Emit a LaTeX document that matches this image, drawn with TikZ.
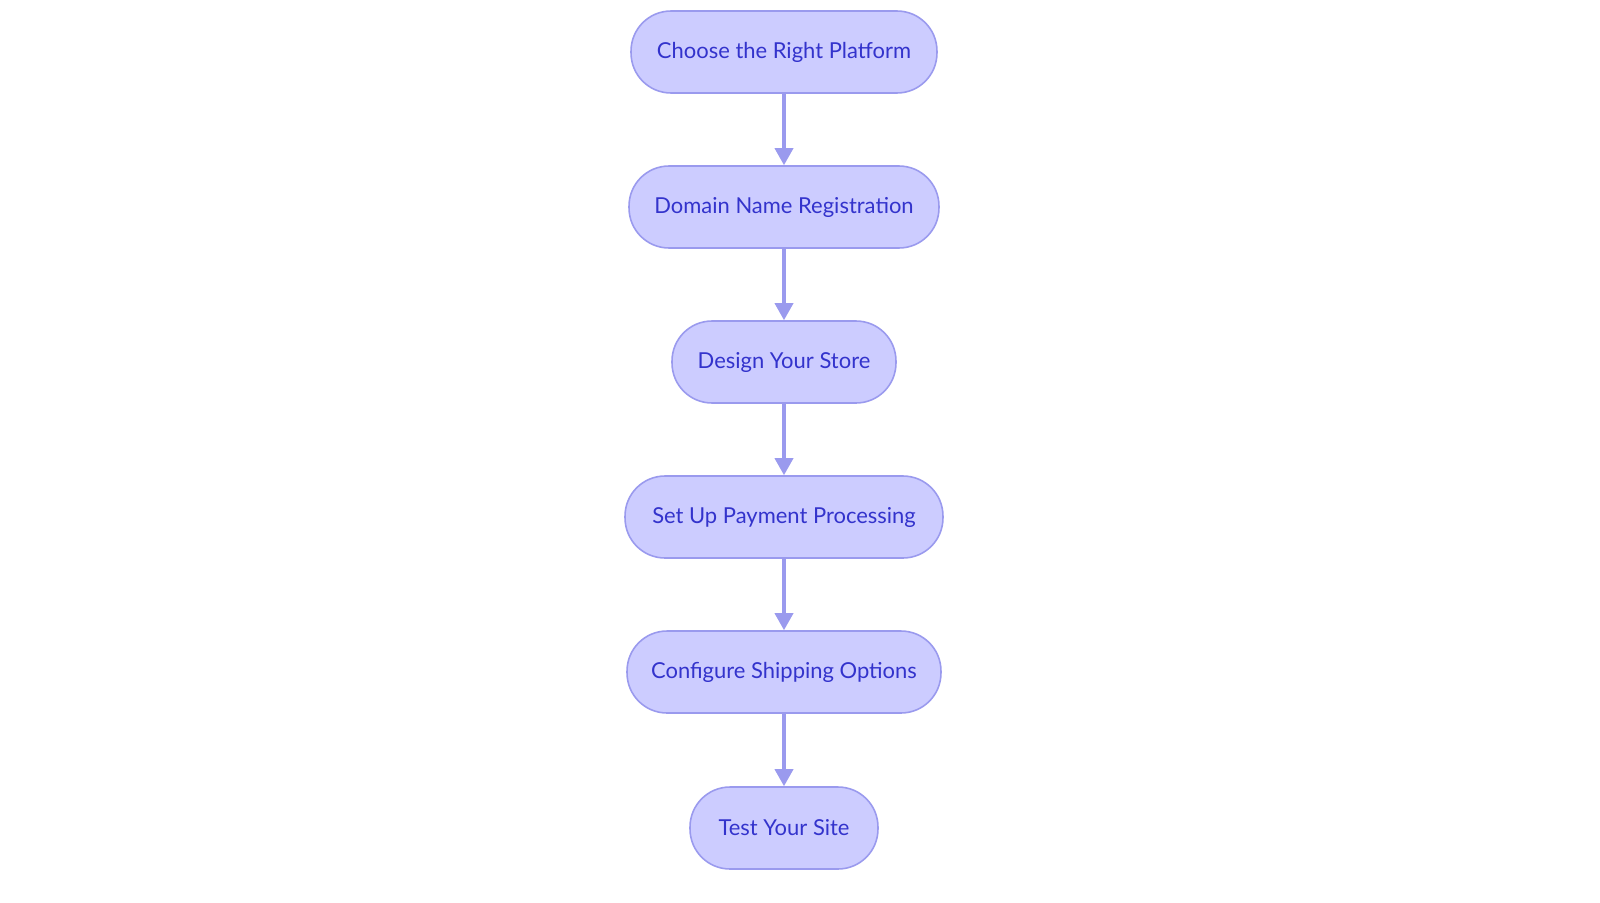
\documentclass[tikz,border=0pt]{standalone}
\usepackage{fontspec}
\setmainfont{Lato}
\usetikzlibrary{arrows.meta}
\definecolor{stepfill}{HTML}{CCCCFF}
\definecolor{stepline}{HTML}{9A9AEE}
\definecolor{steptext}{HTML}{3333CC}
\tikzset{
  stage/.style={draw=stepline,fill=stepfill,text=steptext,line width=0.9pt,
    rounded corners=0.8cm,minimum height=1.64cm,font=\fontsize{12.5}{15}\selectfont},
  flow/.style={draw=stepline,line width=2pt,-{Triangle[length=0.34cm,width=0.36cm]}}
}
\begin{document}
\begin{tikzpicture}[x=0.02cm,y=-0.02cm]
\useasboundingbox[fill=white] (0,0) rectangle (1600,903);
\node[stage,minimum width=6.12cm] (P) at (784,52) {Choose the Right Platform};
\node[stage,minimum width=6.2cm] (D) at (784,207) {Domain Name Registration};
\node[stage,minimum width=4.48cm] (S) at (784,362) {Design Your Store};
\node[stage,minimum width=6.36cm] (Y) at (784,517) {Set Up Payment Processing};
\node[stage,minimum width=6.28cm] (C) at (784,672) {Configure Shipping Options};
\node[stage,minimum width=3.76cm] (T) at (784,828) {Test Your Site};
\draw[flow] (P) -- (D);
\draw[flow] (D) -- (S);
\draw[flow] (S) -- (Y);
\draw[flow] (Y) -- (C);
\draw[flow] (C) -- (T);
\end{tikzpicture}
\end{document}
